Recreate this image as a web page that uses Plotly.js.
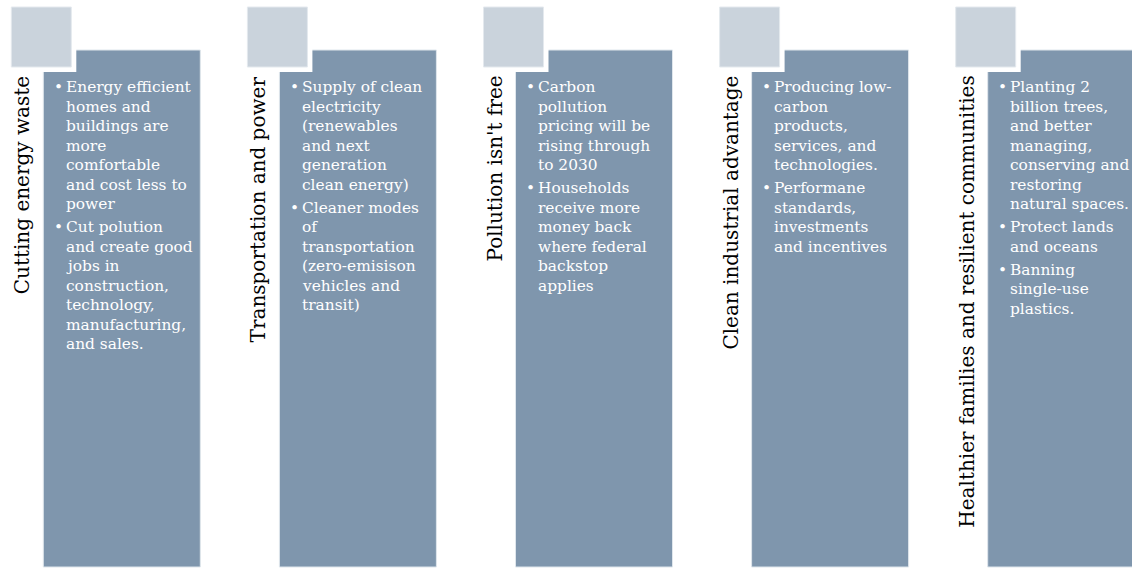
<!DOCTYPE html>
<html><head><meta charset="utf-8">
<script src="https://cdn.plot.ly/plotly-3.0.1.min.js"></script>
<style>html,body{margin:0;padding:0;background:#fff;overflow:hidden}</style>
</head><body><div id="chart" style="width:1132px;height:568px"></div>
<script>
// ---- data ----
const titles = [
  "Cutting energy waste",
  "Transportation and power",
  "Pollution isn't free",
  "Clean industrial advantage",
  "Healthier families and resilient communities"
];
const bullets1 = [
  ["Energy efficient", "homes and", "buildings are", "more", "comfortable", "and cost less to", "power"],
  ["Cut polution", "and create good", "jobs in", "construction,", "technology,", "manufacturing,", "and sales."]
];
const bullets2 = [
  ["Supply of clean", "electricity", "(renewables", "and next", "generation", "clean energy)"],
  ["Cleaner modes", "of", "transportation", "(zero-emisison", "vehicles and", "transit)"]
];
const bullets3 = [
  ["Carbon", "pollution", "pricing will be", "rising through", "to 2030"],
  ["Households", "receive more", "money back", "where federal", "backstop", "applies"]
];
const bullets4 = [
  ["Producing low-", "carbon", "products,", "services, and", "technologies."],
  ["Performane", "standards,", "investments", "and incentives"]
];
const bullets5 = [
  ["Planting 2", "billion trees,", "and better", "managing,", "conserving and", "restoring", "natural spaces."],
  ["Protect lands", "and oceans"],
  ["Banning", "single-use", "plastics."]
];
const allBullets = [bullets1, bullets2, bullets3, bullets4, bullets5];

// ---- layout ----
const W = 1132, H = 568;
const boxLeft0 = 43.3, pitch = 236.1, boxW = 157, boxTop = 50, boxBottom = 567;
const sqOff = -32, sqSize = 60, sqTop = 7, gap = 5;
const lineH = 19.5, paraGap = 3.6, firstLine = 87;
const boxColor = "#7f96ad", sqColor = "#cad3dc";
const bodyFont = {family: "DejaVu Serif", size: 15.4, color: "#ffffff"};
const titleFont = {family: "DejaVu Serif", size: 20, color: "#000000"};

const shapes = [];
const annotations = [];
titles.forEach((t, i) => {
  const L = boxLeft0 + i * pitch;
  shapes.push({type: "rect", xref: "x", yref: "y", x0: L, x1: L + boxW, y0: boxTop, y1: boxBottom,
    fillcolor: boxColor, line: {color: "#dfe6ec", width: 1}, layer: "below"});
  shapes.push({type: "rect", xref: "x", yref: "y", x0: L + sqOff - gap, x1: L + sqOff + sqSize + gap,
    y0: sqTop - gap, y1: sqTop + sqSize + gap, fillcolor: "#ffffff", line: {width: 0}, layer: "below"});
  shapes.push({type: "rect", xref: "x", yref: "y", x0: L + sqOff, x1: L + sqOff + sqSize,
    y0: sqTop, y1: sqTop + sqSize, fillcolor: sqColor, line: {color: "#e4e9ee", width: 1}, layer: "below"});
  annotations.push({text: t, x: L - 21, y: 74, xref: "x", yref: "y", xanchor: "center", yanchor: "top",
    textangle: -90, showarrow: false, font: titleFont});
  let y = firstLine;
  allBullets[i].forEach((para, pi) => {
    if (pi > 0) y += paraGap;
    annotations.push({text: "•", x: L + 15, y: y, xref: "x", yref: "y", xanchor: "center", yanchor: "middle",
      showarrow: false, font: bodyFont});
    para.forEach(line => {
      annotations.push({text: line, x: L + 20.5, y: y, xref: "x", yref: "y", xanchor: "left", yanchor: "middle",
        showarrow: false, font: bodyFont});
      y += lineH;
    });
  });
});

Plotly.newPlot("chart", [{x: [], y: [], type: "scatter", hoverinfo: "skip", showlegend: false}], {
  width: W, height: H,
  margin: {l: 0, r: 0, t: 0, b: 0},
  paper_bgcolor: "#ffffff", plot_bgcolor: "#ffffff",
  xaxis: {range: [0, W], visible: false, fixedrange: true},
  yaxis: {range: [H, 0], visible: false, fixedrange: true},
  shapes: shapes,
  annotations: annotations,
  showlegend: false
}, {displayModeBar: false, staticPlot: true});
</script></body></html>
